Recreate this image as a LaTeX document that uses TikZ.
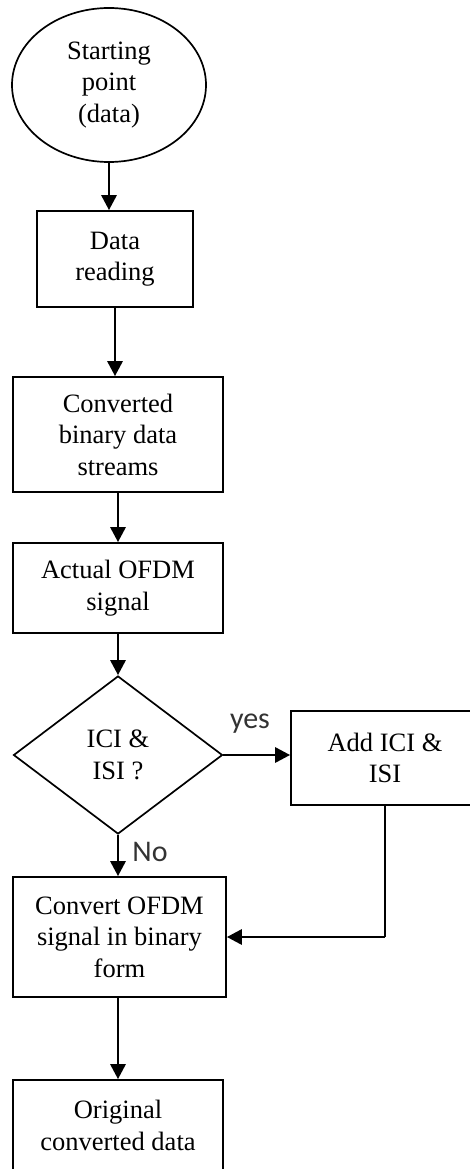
\documentclass[tikz,border=0pt]{standalone}
\usepackage{fontspec}
\setmainfont{Liberation Serif}
\newfontfamily\lblfont{Carlito}
\usetikzlibrary{shapes.geometric,arrows.meta}
\begin{document}
\begin{tikzpicture}[x=1pt,y=-1pt,
  every node/.style={inner sep=0pt,font=\fontsize{26.5}{31.5}\selectfont,align=center},
  box/.style={draw,line width=1.7pt,rectangle},
  flow/.style={line width=2.9pt,-{Triangle[length=15pt,width=15pt]}},
  plain/.style={line width=2.2pt},
  lbl/.style={font=\lblfont\fontsize{30}{32}\selectfont,text=black!80}]
\useasboundingbox (0,0) rectangle (470,1169);

% process steps
\node[draw,line width=1.7pt,ellipse,minimum width=194pt,minimum height=154pt] (start) at (109,85) {Starting\\point\\(data)};
\node[box,minimum width=156pt,minimum height=96pt] (read) at (115,259) {Data\\reading};
\node[box,minimum width=210pt,minimum height=115pt] (conv) at (118,434.5) {Converted\\binary data\\streams};
\node[box,minimum width=210pt,minimum height=90pt] (actual) at (118,588) {Actual OFDM\\signal};
\node[draw,line width=1.7pt,diamond,minimum width=209pt,minimum height=158pt] (dec) at (118,755) {ICI \&\\ISI ?};
\node[box,minimum width=188pt,minimum height=94pt] (add) at (385,758) {Add ICI \&\\ISI};
\node[box,minimum width=213pt,minimum height=120pt] (convb) at (119.5,937) {Convert OFDM\\signal in binary\\form};
\node[box,minimum width=210pt,minimum height=91pt] (orig) at (118,1125.5) {Original\\converted data};

% branch labels
\node[lbl] (yes) at (250,724) {yes};
\node[lbl] (no) at (150,852) {No};

% connectors
\draw[flow] (start.south) -- (start.south |- read.north);
\draw[flow] (read.south) -- (read.south |- conv.north);
\draw[flow] (conv.south) -- (actual.north);
\draw[flow] (actual.south) -- (dec.north);
\draw[flow] (dec.east) -- (dec.east -| add.west);
\draw[flow] (dec.south) -- (dec.south |- convb.north);
\draw[plain] (add.south) -- (add.south |- convb.east);
\draw[flow] (add.south |- convb.east) -- (convb.east);
\draw[flow] (convb.south) ++(-1.5,0) coordinate (cb) -- (cb |- orig.north);
\end{tikzpicture}
\end{document}
